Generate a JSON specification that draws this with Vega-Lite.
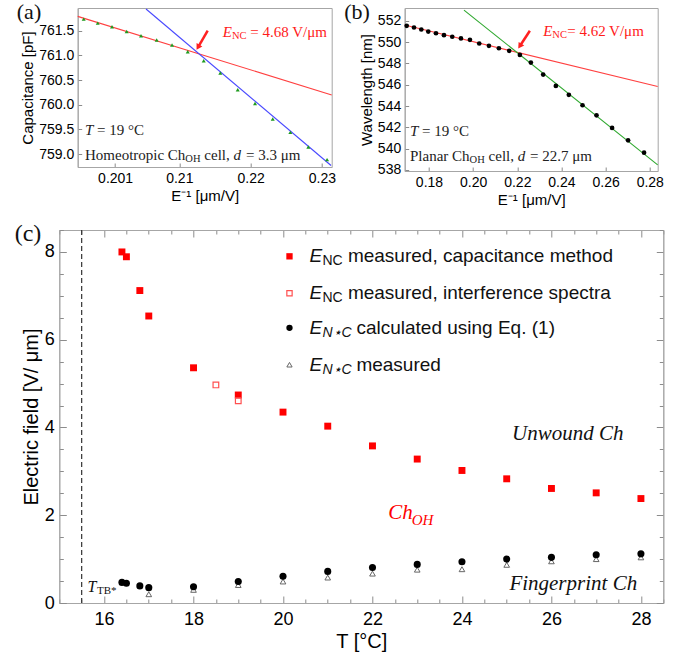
{
  "$schema": "https://vega.github.io/schema/vega-lite/v6.json",
  "background": "white",
  "padding": {"left": 0, "top": 0, "right": 5, "bottom": 5},
  "config": {
    "view": {"stroke": "#a6a6a6", "strokeWidth": 1},
    "axis": {"domainColor": "#a6a6a6", "tickColor": "#8c8c8c", "grid": false, "labelFont": "Liberation Sans", "titleFont": "Liberation Sans", "titleFontWeight": "normal", "labelColor": "#000", "titleColor": "#000", "labelFlush": false, "labelOverlap": false}
  },
  "datasets": {
    "a_pts": [
      {"invE": 0.19659, "C": 761.735}, {"invE": 0.19856, "C": 761.654}, {"invE": 0.20056, "C": 761.581}, {"invE": 0.20262, "C": 761.486},
      {"invE": 0.20463, "C": 761.399}, {"invE": 0.20683, "C": 761.31}, {"invE": 0.20898, "C": 761.209}, {"invE": 0.21118, "C": 761.075},
      {"invE": 0.21342, "C": 760.893}, {"invE": 0.21575, "C": 760.642}, {"invE": 0.21819, "C": 760.306}, {"invE": 0.22062, "C": 760.028},
      {"invE": 0.2231, "C": 759.711}, {"invE": 0.22557, "C": 759.441}, {"invE": 0.22809, "C": 759.144}, {"invE": 0.23072, "C": 758.889}
    ],
    "a_red": [{"invE": 0.19575, "C": 761.79}, {"invE": 0.23137, "C": 760.2}],
    "a_blue": [{"invE": 0.20533, "C": 761.94}, {"invE": 0.23128, "C": 758.77}],
    "b_pts": [
      {"invE": 0.16991, "L": 551.53}, {"invE": 0.17321, "L": 551.37}, {"invE": 0.17652, "L": 551.18}, {"invE": 0.17968, "L": 550.99},
      {"invE": 0.18317, "L": 550.83}, {"invE": 0.18679, "L": 550.65}, {"invE": 0.19054, "L": 550.5}, {"invE": 0.19448, "L": 550.34},
      {"invE": 0.19855, "L": 550.21}, {"invE": 0.20276, "L": 549.87}, {"invE": 0.20715, "L": 549.65}, {"invE": 0.21167, "L": 549.42},
      {"invE": 0.21633, "L": 549.18}, {"invE": 0.22118, "L": 548.8}, {"invE": 0.22615, "L": 548.08}, {"invE": 0.23172, "L": 546.95},
      {"invE": 0.23747, "L": 545.89}, {"invE": 0.24335, "L": 545.05}, {"invE": 0.24955, "L": 544.07}, {"invE": 0.25588, "L": 543.13},
      {"invE": 0.26294, "L": 541.94}, {"invE": 0.27018, "L": 540.78}, {"invE": 0.27742, "L": 539.62}
    ],
    "b_red": [{"invE": 0.169, "L": 551.6}, {"invE": 0.2836, "L": 545.83}],
    "b_green": [{"invE": 0.19584, "L": 553.0}, {"invE": 0.2836, "L": 538.47}],
    "c_cap": [
      {"T": 16.4, "E": 8.0}, {"T": 16.5, "E": 7.89}, {"T": 16.8, "E": 7.12}, {"T": 17.0, "E": 6.54}, {"T": 18.0, "E": 5.36},
      {"T": 19.0, "E": 4.74}, {"T": 20.0, "E": 4.35}, {"T": 21.0, "E": 4.03}, {"T": 22.0, "E": 3.58}, {"T": 23.0, "E": 3.28},
      {"T": 24.0, "E": 3.02}, {"T": 25.0, "E": 2.83}, {"T": 26.0, "E": 2.61}, {"T": 27.0, "E": 2.51}, {"T": 28.0, "E": 2.38}
    ],
    "c_int": [{"T": 18.5, "E": 4.97}, {"T": 19.0, "E": 4.61}],
    "c_calc": [
      {"T": 16.4, "E": 0.47}, {"T": 16.5, "E": 0.45}, {"T": 16.8, "E": 0.39}, {"T": 17.0, "E": 0.35}, {"T": 18.0, "E": 0.37},
      {"T": 19.0, "E": 0.49}, {"T": 20.0, "E": 0.61}, {"T": 21.0, "E": 0.72}, {"T": 22.0, "E": 0.81}, {"T": 23.0, "E": 0.88},
      {"T": 24.0, "E": 0.94}, {"T": 25.0, "E": 1.0}, {"T": 26.0, "E": 1.04}, {"T": 27.0, "E": 1.1}, {"T": 28.0, "E": 1.12}
    ],
    "c_meas": [
      {"T": 17.0, "E": 0.2}, {"T": 18.0, "E": 0.3}, {"T": 19.0, "E": 0.41}, {"T": 20.0, "E": 0.49}, {"T": 21.0, "E": 0.58},
      {"T": 22.0, "E": 0.67}, {"T": 23.0, "E": 0.76}, {"T": 24.0, "E": 0.77}, {"T": 25.0, "E": 0.87}, {"T": 26.0, "E": 0.95},
      {"T": 27.0, "E": 1.0}, {"T": 28.0, "E": 1.04}
    ],
    "c_leg": [
      {"T": 20.59, "E": 7.9, "g": 1, "sub": "NC", "rest": "measured, capacitance method"},
      {"T": 20.59, "E": 7.06, "g": 1, "sub": "NC", "rest": "measured, interference spectra"},
      {"T": 20.59, "E": 6.27, "g": 2, "sub": "N⋆C", "rest": "calculated using Eq. (1)"},
      {"T": 20.59, "E": 5.43, "g": 2, "sub": "N⋆C", "rest": "measured"}
    ],
    "spacer": [{"k": 0}]
  },
  "spacing": 12,
  "vconcat": [
    {
      "spacing": 14.7,
      "hconcat": [
        {"width": 1, "height": 1, "view": {"stroke": null}, "data": {"name": "spacer"}, "mark": {"type": "point", "size": 0, "opacity": 0}},
        {
          "spacing": 7,
          "hconcat": [
            {
              "width": 254,
              "height": 159,
              "encoding": {
                "x": {"field": "invE", "type": "quantitative", "scale": {"domain": [0.19575, 0.23137], "nice": false, "zero": false},
                      "axis": {"title": "E⁻¹ [μm/V]", "values": [0.201, 0.21, 0.22, 0.23], "labelExpr": "'' + datum.value", "labelFontSize": 14, "titleFontSize": 15, "tickSize": -4, "labelPadding": 8, "titlePadding": 3}},
                "y": {"field": "C", "type": "quantitative", "scale": {"domain": [758.74, 761.96], "nice": false, "zero": false},
                      "axis": {"title": "Capacitance [pF]", "values": [759, 759.5, 760, 760.5, 761, 761.5], "format": ".1f", "labelFontSize": 14, "titleFontSize": 15, "tickSize": -4, "labelPadding": 8, "titlePadding": 3}}
              },
              "layer": [
                {"data": {"name": "a_red"}, "mark": {"type": "line", "color": "#ff4040", "strokeWidth": 1.1}},
                {"data": {"name": "a_blue"}, "mark": {"type": "line", "color": "#4848ff", "strokeWidth": 1.1}},
                {"data": {"name": "a_pts"}, "mark": {"type": "point", "shape": "triangle-up", "filled": true, "color": "#1e9a1e", "size": 16, "opacity": 1}},
                {"data": {"values": [{"invE": 0.21398, "C": 761.5, "invE2": 0.21268, "C2": 761.18}]}, "mark": {"type": "rule", "color": "#ff2020", "strokeWidth": 2.5}, "encoding": {"x2": {"field": "invE2"}, "y2": {"field": "C2"}}},
                {"data": {"values": [{"invE": 0.21262, "C": 761.165}]}, "mark": {"type": "point", "shape": "triangle-up", "angle": 210, "filled": true, "color": "#ff2020", "size": 45, "opacity": 1}},
                {
                  "data": {"values": [{"invE": 0.21609, "C": 761.47}]},
                  "layer": [
                    {"mark": {"type": "text", "text": "E", "font": "Liberation Serif", "fontStyle": "italic", "fontSize": 15, "color": "#ff1a1a", "align": "left", "baseline": "middle"}},
                    {"mark": {"type": "text", "text": "NC", "font": "Liberation Serif", "fontSize": 10.5, "color": "#ff1a1a", "align": "left", "baseline": "middle", "dx": 9.2, "dy": 4}},
                    {"mark": {"type": "text", "text": "= 4.68 V/μm", "font": "Liberation Serif", "fontSize": 15, "color": "#ff1a1a", "align": "left", "baseline": "middle", "dx": 27.5}}
                  ]
                },
                {
                  "data": {"values": [{"invE": 0.19677, "C": 759.48}]},
                  "layer": [
                    {"mark": {"type": "text", "text": "T", "font": "Liberation Serif", "fontStyle": "italic", "fontSize": 15, "color": "#222", "align": "left", "baseline": "middle"}},
                    {"mark": {"type": "text", "text": "= 19 °C", "font": "Liberation Serif", "fontSize": 15, "color": "#222", "align": "left", "baseline": "middle", "dx": 12}}
                  ]
                },
                {
                  "data": {"values": [{"invE": 0.19677, "C": 758.98}]},
                  "layer": [
                    {"mark": {"type": "text", "text": "Homeotropic Ch", "font": "Liberation Serif", "fontSize": 15, "color": "#222", "align": "left", "baseline": "middle"}},
                    {"mark": {"type": "text", "text": "OH", "font": "Liberation Serif", "fontSize": 10.5, "color": "#222", "align": "left", "baseline": "middle", "dx": 100.4, "dy": 4}},
                    {"mark": {"type": "text", "text": "cell,", "font": "Liberation Serif", "fontSize": 15, "color": "#222", "align": "left", "baseline": "middle", "dx": 119.4}},
                    {"mark": {"type": "text", "text": "d", "font": "Liberation Serif", "fontStyle": "italic", "fontSize": 15, "color": "#222", "align": "left", "baseline": "middle", "dx": 148.6}},
                    {"mark": {"type": "text", "text": "= 3.3 μm", "font": "Liberation Serif", "fontSize": 15, "color": "#222", "align": "left", "baseline": "middle", "dx": 161}}
                  ]
                },
                {"data": {"values": [{"invE": 0.18892, "C": 761.87}]}, "mark": {"type": "text", "text": "(a)", "font": "Liberation Serif", "fontSize": 22, "color": "#111", "align": "center", "baseline": "middle"}}
              ]
            },
            {
              "width": 253,
              "height": 163,
              "encoding": {
                "x": {"field": "invE", "type": "quantitative", "scale": {"domain": [0.169, 0.2836], "nice": false, "zero": false},
                      "axis": {"title": "E⁻¹ [μm/V]", "values": [0.18, 0.2, 0.22, 0.24, 0.26, 0.28], "format": ".2f", "labelFontSize": 14, "titleFontSize": 15, "tickSize": -4, "labelPadding": 8, "titlePadding": 3}},
                "y": {"field": "L", "type": "quantitative", "scale": {"domain": [537.9, 553.2], "nice": false, "zero": false},
                      "axis": {"title": "Wavelength [nm]", "values": [538, 540, 542, 544, 546, 548, 550, 552], "labelFontSize": 14, "titleFontSize": 15, "tickSize": -4, "labelPadding": 8, "titlePadding": 3}}
              },
              "layer": [
                {"data": {"name": "b_red"}, "mark": {"type": "line", "color": "#ff4040", "strokeWidth": 1.1}},
                {"data": {"name": "b_green"}, "mark": {"type": "line", "color": "#2ea82e", "strokeWidth": 1.1}},
                {"data": {"name": "b_pts"}, "mark": {"type": "point", "shape": "circle", "filled": true, "color": "#000", "size": 22, "opacity": 1}},
                {"data": {"values": [{"invE": 0.2257, "L": 551.06, "invE2": 0.22125, "L2": 549.66}]}, "mark": {"type": "rule", "color": "#ff2020", "strokeWidth": 2.5}, "encoding": {"x2": {"field": "invE2"}, "y2": {"field": "L2"}}},
                {"data": {"values": [{"invE": 0.22115, "L": 549.62}]}, "mark": {"type": "point", "shape": "triangle-up", "angle": 213, "filled": true, "color": "#ff2020", "size": 45, "opacity": 1}},
                {
                  "data": {"values": [{"invE": 0.23172, "L": 551.06}]},
                  "layer": [
                    {"mark": {"type": "text", "text": "E", "font": "Liberation Serif", "fontStyle": "italic", "fontSize": 15, "color": "#ff1a1a", "align": "left", "baseline": "middle"}},
                    {"mark": {"type": "text", "text": "NC", "font": "Liberation Serif", "fontSize": 10.5, "color": "#ff1a1a", "align": "left", "baseline": "middle", "dx": 9.2, "dy": 4}},
                    {"mark": {"type": "text", "text": "= 4.62 V/μm", "font": "Liberation Serif", "fontSize": 15, "color": "#ff1a1a", "align": "left", "baseline": "middle", "dx": 24}}
                  ]
                },
                {
                  "data": {"values": [{"invE": 0.1714, "L": 541.66}]},
                  "layer": [
                    {"mark": {"type": "text", "text": "T", "font": "Liberation Serif", "fontStyle": "italic", "fontSize": 15, "color": "#222", "align": "left", "baseline": "middle"}},
                    {"mark": {"type": "text", "text": "= 19 °C", "font": "Liberation Serif", "fontSize": 15, "color": "#222", "align": "left", "baseline": "middle", "dx": 12}}
                  ]
                },
                {
                  "data": {"values": [{"invE": 0.1714, "L": 539.31}]},
                  "layer": [
                    {"mark": {"type": "text", "text": "Planar Ch", "font": "Liberation Serif", "fontSize": 15, "color": "#222", "align": "left", "baseline": "middle"}},
                    {"mark": {"type": "text", "text": "OH", "font": "Liberation Serif", "fontSize": 10.5, "color": "#222", "align": "left", "baseline": "middle", "dx": 59.6, "dy": 4}},
                    {"mark": {"type": "text", "text": "cell,", "font": "Liberation Serif", "fontSize": 15, "color": "#222", "align": "left", "baseline": "middle", "dx": 78.6}},
                    {"mark": {"type": "text", "text": "d", "font": "Liberation Serif", "fontStyle": "italic", "fontSize": 15, "color": "#222", "align": "left", "baseline": "middle", "dx": 107.7}},
                    {"mark": {"type": "text", "text": "= 22.7 μm", "font": "Liberation Serif", "fontSize": 15, "color": "#222", "align": "left", "baseline": "middle", "dx": 120}}
                  ]
                },
                {"data": {"values": [{"invE": 0.14742, "L": 552.78}]}, "mark": {"type": "text", "text": "(b)", "font": "Liberation Serif", "fontSize": 22, "color": "#111", "align": "center", "baseline": "middle"}}
              ]
            }
          ]
        }
      ]
    },
    {
      "spacing": 12.3,
      "hconcat": [
        {"width": 1, "height": 1, "view": {"stroke": null}, "data": {"name": "spacer"}, "mark": {"type": "point", "size": 0, "opacity": 0}},
        {
          "width": 604,
          "height": 373,
          "resolve": {"axis": {"x": "independent", "y": "independent"}},
          "layer": [
            {
              "data": {"values": [{"T": 15.5}]},
              "mark": {"type": "rule", "color": "#333", "strokeDash": [5, 3], "strokeWidth": 1.2},
              "encoding": {
                "x": {"field": "T", "type": "quantitative", "scale": {"domain": [15, 28.5], "nice": false, "zero": false},
                      "axis": {"orient": "top", "title": null, "labels": false, "values": [15, 15.5, 16, 16.5, 17, 17.5, 18, 18.5, 19, 19.5, 20, 20.5, 21, 21.5, 22, 22.5, 23, 23.5, 24, 24.5, 25, 25.5, 26, 26.5, 27, 27.5, 28, 28.5],
                               "tickSize": {"condition": {"test": "datum.value % 2 == 0", "value": -7}, "value": -4}}}
              }
            },
            {
              "data": {"name": "c_meas"},
              "mark": {"type": "point", "shape": "triangle-up", "filled": false, "color": "#666", "strokeWidth": 1, "size": 32, "opacity": 1},
              "encoding": {
                "x": {"field": "T", "type": "quantitative", "scale": {"domain": [15, 28.5], "nice": false, "zero": false}, "axis": null},
                "y": {"field": "E", "type": "quantitative", "scale": {"domain": [0, 8.5], "nice": false, "zero": false},
                      "axis": {"orient": "right", "title": null, "labels": false, "values": [0, 0.5, 1, 1.5, 2, 2.5, 3, 3.5, 4, 4.5, 5, 5.5, 6, 6.5, 7, 7.5, 8, 8.5],
                               "tickSize": {"condition": {"test": "datum.value % 2 == 0", "value": -7}, "value": -4}}}
              }
            },
            {
              "encoding": {
                "x": {"field": "T", "type": "quantitative", "scale": {"domain": [15, 28.5], "nice": false, "zero": false},
                      "axis": {"orient": "bottom", "title": "T [°C]", "values": [15, 15.5, 16, 16.5, 17, 17.5, 18, 18.5, 19, 19.5, 20, 20.5, 21, 21.5, 22, 22.5, 23, 23.5, 24, 24.5, 25, 25.5, 26, 26.5, 27, 27.5, 28, 28.5],
                               "labelExpr": "datum.value % 2 == 0 ? '' + datum.value : ''", "tickSize": {"condition": {"test": "datum.value % 2 == 0", "value": -7}, "value": -4},
                               "labelPadding": 14, "labelFontSize": 18, "titleFontSize": 20, "titlePadding": 0}},
                "y": {"field": "E", "type": "quantitative", "scale": {"domain": [0, 8.5], "nice": false, "zero": false},
                      "axis": {"orient": "left", "title": "Electric field  [V/ μm]", "values": [0, 0.5, 1, 1.5, 2, 2.5, 3, 3.5, 4, 4.5, 5, 5.5, 6, 6.5, 7, 7.5, 8, 8.5],
                               "labelExpr": "datum.value % 2 == 0 ? '' + datum.value : ''", "tickSize": {"condition": {"test": "datum.value % 2 == 0", "value": -7}, "value": -4},
                               "labelPadding": 12, "labelFontSize": 18, "titleFontSize": 20, "titlePadding": 3}}
              },
              "layer": [
                {"data": {"name": "c_calc"}, "mark": {"type": "point", "shape": "circle", "filled": true, "color": "#000", "size": 50, "opacity": 1}},
                {"data": {"name": "c_cap"}, "mark": {"type": "point", "shape": "square", "filled": true, "color": "#ff0000", "size": 48, "opacity": 1}},
                {"data": {"name": "c_int"}, "mark": {"type": "point", "shape": "square", "filled": false, "color": "#ff5050", "strokeWidth": 1.2, "size": 32, "opacity": 1}},
                {"data": {"values": [{"T": 20.145, "E": 7.9}]}, "mark": {"type": "point", "shape": "square", "filled": true, "color": "#ff0000", "size": 40, "opacity": 1}},
                {"data": {"values": [{"T": 20.145, "E": 7.06}]}, "mark": {"type": "point", "shape": "square", "filled": false, "color": "#ff5050", "strokeWidth": 1.2, "size": 28, "opacity": 1}},
                {"data": {"values": [{"T": 20.145, "E": 6.27}]}, "mark": {"type": "point", "shape": "circle", "filled": true, "color": "#000", "size": 40, "opacity": 1}},
                {"data": {"values": [{"T": 20.145, "E": 5.43}]}, "mark": {"type": "point", "shape": "triangle-up", "filled": false, "color": "#666", "strokeWidth": 1, "size": 28, "opacity": 1}},
                {"data": {"name": "c_leg"}, "mark": {"type": "text", "text": "E", "font": "Liberation Sans", "fontStyle": "italic", "fontSize": 19, "color": "#111", "align": "left", "baseline": "middle"}},
                {"data": {"name": "c_leg"}, "transform": [{"filter": "datum.g == 1"}], "mark": {"type": "text", "font": "Liberation Sans", "fontSize": 14, "color": "#111", "align": "left", "baseline": "middle", "dx": 13, "dy": 5}, "encoding": {"text": {"field": "sub"}}},
                {"data": {"name": "c_leg"}, "transform": [{"filter": "datum.g == 2"}], "mark": {"type": "text", "font": "Liberation Sans", "fontStyle": "italic", "fontSize": 14, "color": "#111", "align": "left", "baseline": "middle", "dx": 13, "dy": 5}, "encoding": {"text": {"field": "sub"}}},
                {"data": {"name": "c_leg"}, "transform": [{"filter": "datum.g == 1"}], "mark": {"type": "text", "font": "Liberation Sans", "fontSize": 19, "color": "#111", "align": "left", "baseline": "middle", "dx": 38.5}, "encoding": {"text": {"field": "rest"}}},
                {"data": {"name": "c_leg"}, "transform": [{"filter": "datum.g == 2"}], "mark": {"type": "text", "font": "Liberation Sans", "fontSize": 19, "color": "#111", "align": "left", "baseline": "middle", "dx": 47}, "encoding": {"text": {"field": "rest"}}},
                {"data": {"values": [{"T": 25.12, "E": 3.84, "lab": "Unwound Ch"}, {"T": 25.06, "E": 0.43, "lab": "Fingerprint Ch"}]}, "mark": {"type": "text", "font": "Liberation Serif", "fontStyle": "italic", "fontSize": 21, "color": "#111", "align": "left", "baseline": "middle"}, "encoding": {"text": {"field": "lab"}}},
                {
                  "data": {"values": [{"T": 22.35, "E": 2.04}]},
                  "layer": [
                    {"mark": {"type": "text", "text": "Ch", "font": "Liberation Serif", "fontStyle": "italic", "fontSize": 21, "color": "#ff0000", "align": "left", "baseline": "middle"}},
                    {"mark": {"type": "text", "text": "OH", "font": "Liberation Serif", "fontStyle": "italic", "fontSize": 15, "color": "#ff0000", "align": "left", "baseline": "middle", "dx": 23.5, "dy": 7}}
                  ]
                },
                {
                  "data": {"values": [{"T": 15.63, "E": 0.37}]},
                  "layer": [
                    {"mark": {"type": "text", "text": "T", "font": "Liberation Serif", "fontStyle": "italic", "fontSize": 16, "color": "#111", "align": "left", "baseline": "middle"}},
                    {"mark": {"type": "text", "text": "TB*", "font": "Liberation Serif", "fontSize": 11, "color": "#111", "align": "left", "baseline": "middle", "dx": 9.5, "dy": 4}}
                  ]
                },
                {"data": {"values": [{"T": 14.3, "E": 8.42}]}, "mark": {"type": "text", "text": "(c)", "font": "Liberation Serif", "fontSize": 24, "color": "#111", "align": "center", "baseline": "middle"}}
              ]
            }
          ]
        }
      ]
    }
  ]
}
